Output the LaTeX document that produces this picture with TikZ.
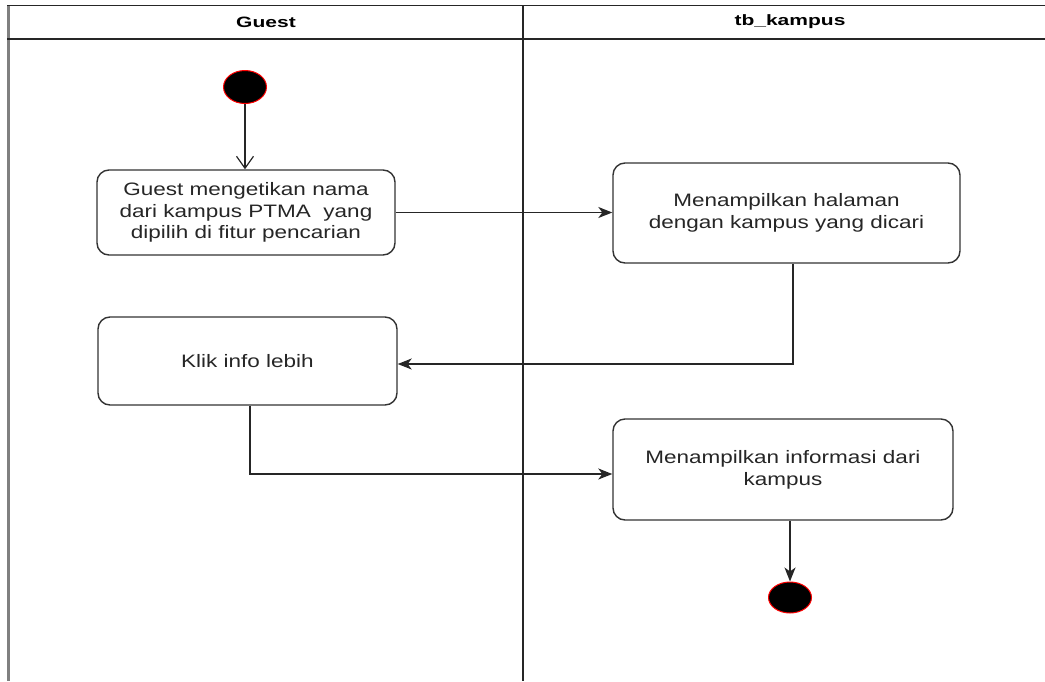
\documentclass[tikz,border=0pt]{standalone}
\usepackage{fontspec}
\setmainfont{Liberation Sans}[FakeStretch=1.25]
\newfontfamily\headfont{Liberation Sans}[FakeStretch=1.4]
\usetikzlibrary{shapes.geometric,arrows.meta}
\tikzset{
  frameline/.style={line width=1.6pt,black!85},
  action/.style={draw=black!80,line width=1.4pt,rounded corners=12pt,fill=white,
    align=center,inner sep=0pt,font=\fontsize{18}{21.7}\selectfont,text=black!85},
  dot/.style={ellipse,draw=red,line width=1pt,fill=black,inner sep=0pt,
    minimum width=43pt,minimum height=33pt},
  flow/.style={line width=1.4pt,black!85,-{Stealth[length=14pt,width=11pt,inset=4pt]}},
  openflow/.style={line width=1.2pt,black!85,-{Straight Barb[length=12pt,width=17pt]}},
  lanehead/.style={font=\headfont\bfseries\fontsize{15}{18}\selectfont}
}
\begin{document}
\begin{tikzpicture}[x=1pt,y=-1pt]
\useasboundingbox (0,0) rectangle (1045,681);
% swimlane frame
\draw[line width=3pt,black!50] (8.5,5) -- (8.5,681);
\draw[frameline] (7,5.5) -- (1045,5.5);
\draw[frameline] (7,39) -- (1045,39);
\draw[frameline] (523,5.5) -- (523,681);
\node[lanehead] (laneA) at (266,22) {Guest};
\node[lanehead] (laneB) at (790,22) {tb\_kampus};
% activity nodes
\node[dot] (start) at (245,87) {};
\node[action,minimum width=298pt,minimum height=85pt] (b1) at (246,212.5)
  {Guest mengetikan nama\\dari kampus PTMA\ \ yang\\dipilih di fitur pencarian};
\node[action,minimum width=347pt,minimum height=100pt] (b2) at (786.5,213)
  {Menampilkan halaman\\dengan kampus yang dicari};
\node[action,minimum width=299pt,minimum height=88pt] (b3) at (247.5,361)
  {Klik info lebih};
\node[action,minimum width=340pt,minimum height=101pt] (b4) at (783,469.5)
  {Menampilkan informasi dari\\kampus};
\node[dot,minimum height=31pt] (stop) at (790,597.5) {};
% bend points
\coordinate (k1) at (793,364);
\coordinate (k2) at (250,474);
% connectors
\draw[openflow] (start.south) -- (b1.north -| start.south);
\draw[flow] (b1.east) -- (b2.west |- b1.east);
\draw[flow] (b2.south -| k1) |- (b3.east |- k1);
\draw[flow] (b3.south -| k2) |- (b4.west |- k2);
\draw[flow] (b4.south -| stop.north) -- (stop.north);
\end{tikzpicture}
\end{document}
